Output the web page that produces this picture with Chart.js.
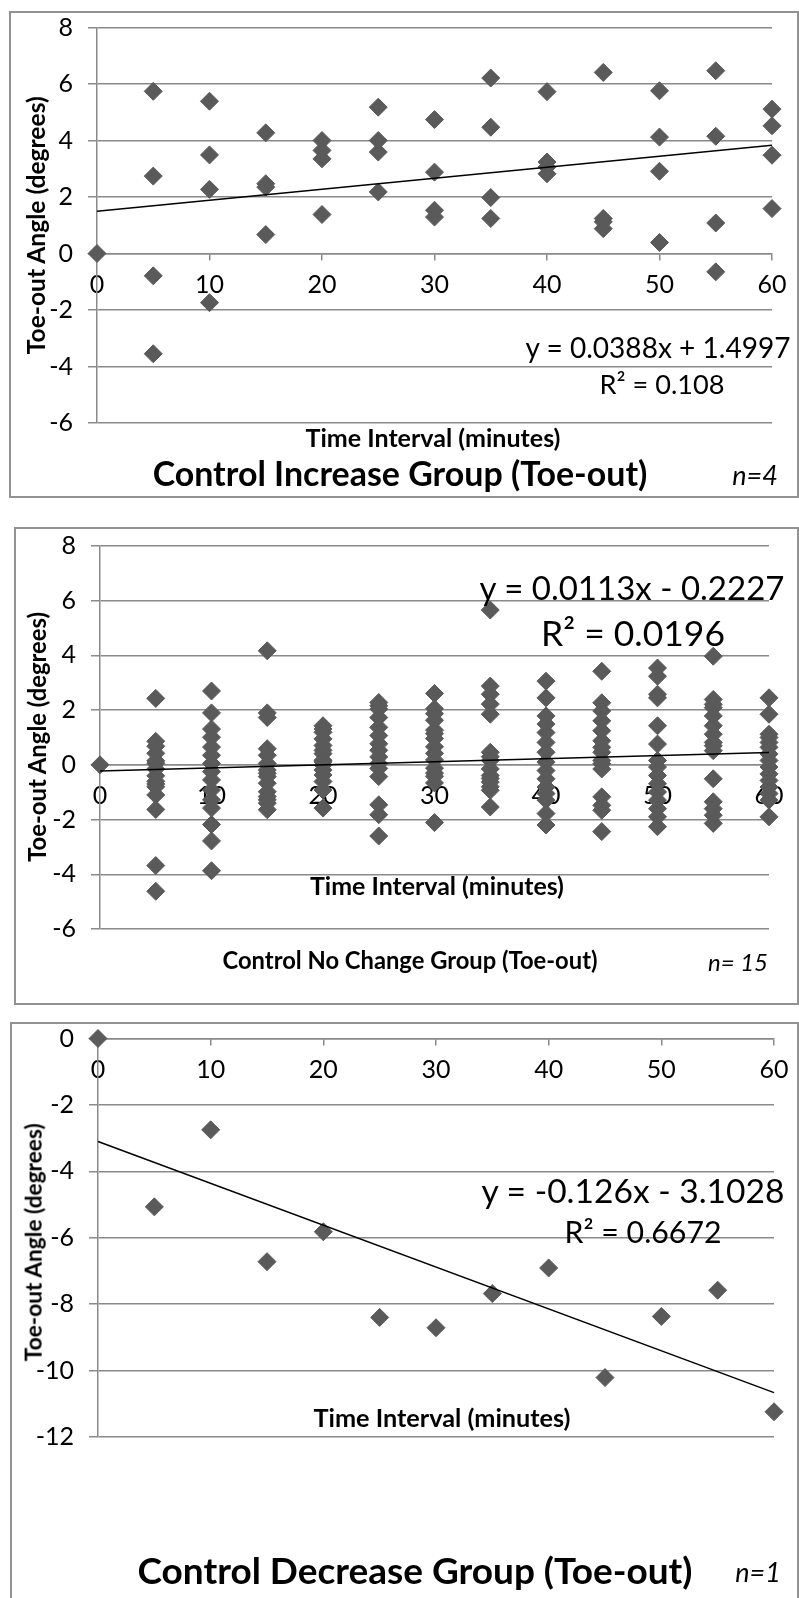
<!DOCTYPE html>
<html>
<head>
<meta charset="utf-8">
<script src="https://cdn.jsdelivr.net/npm/chart.js@4.4.1/dist/chart.umd.min.js"></script>
<style>
  html, body { margin: 0; padding: 0; background: #fff; }
  body { position: relative; width: 799px; height: 1598px; overflow: hidden; font-family: Lato, "Open Sans", sans-serif; }
  .panel { position: absolute; border: 2px solid #929292; box-sizing: border-box; }
  canvas { position: absolute; }
  .txt { position: absolute; white-space: nowrap; line-height: 1; color: #000; font-family: Lato, "Open Sans", sans-serif; }
</style>
</head>
<body>
<div class="panel" style="left:9px;top:11px;width:790px;height:487px;"></div>
<div class="panel" style="left:14px;top:527px;width:785px;height:478px;"></div>
<div class="panel" style="left:10px;top:1022px;width:789px;height:590px;"></div>
<canvas id="c1" width="788" height="486" style="left:9px;top:11px;width:788px;height:486px;"></canvas>
<canvas id="c2" width="783" height="477" style="left:14px;top:527px;width:783px;height:477px;"></canvas>
<canvas id="c3" width="787" height="576" style="left:10px;top:1022px;width:787px;height:576px;"></canvas>
<script>
// ---------- DATA ----------
const timeIntervals = [0, 5, 10, 15, 20, 25, 30, 35, 40, 45, 50, 55, 60];

// Control Increase Group (n=4): angles per time interval
const increaseAngles = [
  [0],
  [5.74, 2.74, -0.79, -3.55],
  [5.39, 3.49, 2.27, -1.74],
  [4.27, 2.47, 2.35, 0.67],
  [4.00, 3.65, 3.35, 1.38],
  [5.18, 4.00, 3.59, 2.18],
  [4.74, 2.88, 1.53, 1.29],
  [6.21, 4.47, 1.98, 1.24],
  [5.73, 3.24, 3.06, 2.82],
  [6.41, 1.24, 1.12, 0.88],
  [5.76, 4.12, 2.91, 0.39],
  [6.47, 4.15, 1.08, -0.65],
  [5.11, 4.52, 3.48, 1.59]
];

// Control No Change Group (n=15)
const noChangeAngles = [
  [0],
  [2.43, 0.86, 0.68, 0.42, 0.15, 0.06, -0.15, -0.40, -0.60, -0.70, -0.80, -1.10, -1.63, -3.68, -4.62],
  [2.70, 1.90, 1.31, 1.01, 0.65, 0.35, 0.05, -0.25, -0.55, -0.92, -1.28, -1.58, -2.18, -2.78, -3.87],
  [4.17, 1.90, 1.73, 0.59, 0.35, 0.05, -0.19, -0.31, -0.43, -0.67, -0.98, -1.16, -1.28, -1.40, -1.64],
  [1.43, 1.31, 1.19, 0.95, 0.71, 0.53, 0.41, 0.17, 0.11, -0.01, -0.19, -0.37, -0.61, -0.92, -1.58],
  [2.28, 2.16, 2.04, 1.73, 1.37, 1.07, 0.77, 0.53, 0.29, 0.05, -0.13, -0.43, -1.46, -1.82, -2.60],
  [2.61, 2.05, 1.87, 1.63, 1.27, 1.14, 0.96, 0.66, 0.42, 0.18, -0.12, -0.30, -0.42, -0.66, -2.11],
  [5.66, 2.88, 2.58, 2.22, 1.85, 0.46, 0.30, 0.16, -0.15, -0.39, -0.50, -0.63, -0.80, -0.93, -1.54],
  [3.06, 2.45, 1.79, 1.49, 1.18, 0.82, 0.46, 0.10, -0.21, -0.51, -0.81, -1.05, -1.29, -1.78, -2.20],
  [3.42, 2.27, 1.97, 1.61, 1.25, 0.88, 0.64, 0.46, 0.16, 0.04, -0.15, -1.17, -1.48, -1.66, -2.44],
  [3.54, 3.24, 2.58, 2.45, 1.43, 0.76, 0.16, -0.08, -0.39, -0.69, -0.99, -1.29, -1.60, -1.90, -2.26],
  [3.97, 2.39, 2.21, 2.09, 1.79, 1.43, 1.12, 0.82, 0.70, 0.52, -0.51, -1.35, -1.60, -1.84, -2.14],
  [2.45, 1.85, 1.12, 1.00, 0.82, 0.64, 0.40, 0.16, -0.08, -0.33, -0.57, -0.81, -1.05, -1.29, -1.90]
];

// Control Decrease Group (n=1)
const decreaseAngles = [0, -5.07, -2.75, -6.72, -5.82, -8.40, -8.71, -7.68, -6.91, -10.21, -8.37, -7.58, -11.24];

// Linear trend lines [slope, intercept] as printed on the chart
const increaseTrend = [0.0388, 1.4997];
const noChangeTrend = [0.0113, -0.2227];
const decreaseTrend = [-0.126, -3.1028];

// Axis tick ranges
const xTicks = [0, 10, 20, 30, 40, 50, 60];
const yTicksUpper = [-6, -4, -2, 0, 2, 4, 6, 8];
const yTicksDecrease = [-12, -10, -8, -6, -4, -2, 0];

// Texts
const xAxisTitle = 'Time Interval (minutes)';
const yAxisTitle = 'Toe-out Angle (degrees)';

// ---------- HELPERS ----------
const FONT = 'Lato, "Open Sans", sans-serif';
const GRID = '#8a8a8a';
const MARK = '#5a5a5a';

function toPoints(angles) {
  const pts = [];
  timeIntervals.forEach((t, i) => {
    const v = angles[i];
    (Array.isArray(v) ? v : [v]).forEach(a => pts.push({ x: t, y: a }));
  });
  return pts;
}

function trendPoints(tr) {
  const x0 = timeIntervals[0], x1 = timeIntervals[timeIntervals.length - 1];
  return [{ x: x0, y: tr[0] * x0 + tr[1] }, { x: x1, y: tr[0] * x1 + tr[1] }];
}

function makeChart(id, angles, trend, yTicks, g) {
  const ctx = document.getElementById(id);
  return new Chart(ctx, {
    type: 'scatter',
    data: {
      datasets: [
        { type: 'line', data: trendPoints(trend), borderColor: '#000', borderWidth: 1.5,
          pointRadius: 0, fill: false, order: 0, clip: false },
        { data: toPoints(angles), pointStyle: 'rectRot', pointRadius: 9, pointHoverRadius: 9,
          backgroundColor: MARK, borderColor: MARK, borderWidth: 1, order: 1, clip: false }
      ]
    },
    options: {
      responsive: false, animation: false, devicePixelRatio: 1, events: [],
      layout: { autoPadding: false, padding: { left: 0, top: g.top, right: g.right, bottom: g.bottom } },
      plugins: { legend: { display: false }, tooltip: { enabled: false }, title: { display: false } },
      scales: {
        x: {
          type: 'linear', position: { y: 0 },
          min: xTicks[0], max: xTicks[xTicks.length - 1],
          ticks: { stepSize: 10, autoSkip: false, maxRotation: 0, minRotation: 0, color: '#000',
                   padding: 10, font: { family: FONT, size: 25 } },
          grid: { drawOnChartArea: false, drawTicks: true, tickLength: 6, color: GRID, lineWidth: 1.5 },
          border: { display: true, color: GRID, width: 1.5 },
          afterFit: s => { s.paddingLeft = 0; s.paddingRight = 0; }
        },
        y: {
          min: yTicks[0], max: yTicks[yTicks.length - 1],
          ticks: { stepSize: 2, color: '#000', padding: 15, font: { family: FONT, size: 25 } },
          grid: { color: GRID, lineWidth: 1.5, tickLength: 9 },
          border: { display: true, color: GRID, width: 1.5 },
          afterFit: s => { s.width = g.axisW; s.paddingTop = 0; s.paddingBottom = 0; }
        }
      }
    }
  });
}

// Place a text centred on (cx, cy); if targetW is given, the font size is chosen so the text spans that width.
function place(text, cx, cy, size, targetW, o) {
  const d = document.createElement('div');
  d.className = 'txt';
  d.textContent = text;
  d.style.fontWeight = o.bold ? '700' : '400';
  d.style.fontStyle = o.italic ? 'italic' : 'normal';
  d.style.fontSize = size + 'px';
  d.style.left = '0px'; d.style.top = '0px';
  document.body.appendChild(d);
  if (targetW) {
    const w0 = d.getBoundingClientRect().width;
    d.style.fontSize = (size * targetW / w0).toFixed(2) + 'px';
  }
  const r = d.getBoundingClientRect();
  d.style.left = (cx - r.width / 2) + 'px';
  d.style.top = (cy - r.height / 2) + 'px';
  if (o.rotate) d.style.transform = 'rotate(-90deg)';
}

// ---------- CHARTS ----------
makeChart('c1', increaseAngles, increaseTrend, yTicksUpper, { axisW: 88, top: 16.5, bottom: 74, right: 25 });
makeChart('c2', noChangeAngles, noChangeTrend, yTicksUpper, { axisW: 86, top: 19, bottom: 75, right: 28 });
makeChart('c3', decreaseAngles, decreaseTrend, yTicksDecrease, { axisW: 88, top: 16.5, bottom: 161, right: 23 });

// ---------- TEXT ----------
// Panel 1
place(yAxisTitle, 36, 225, 20, 258, { bold: true, rotate: true });
place(xAxisTitle, 433, 438, 20, 255, { bold: true });
place('Control Increase Group (Toe-out)', 400, 473, 20, 495, { bold: true });
place('n=4', 755, 474, 27, 0, { italic: true });
place('y = ' + increaseTrend[0] + 'x + ' + increaseTrend[1], 658, 347, 20, 265, {});
place('R\u00B2 = 0.108', 662, 384, 20, 125, {});

// Panel 2
place(yAxisTitle, 37, 737, 20, 250, { bold: true, rotate: true });
place(xAxisTitle, 437, 885, 20, 254, { bold: true });
place('Control No Change Group (Toe-out)', 410, 961, 20, 375, { bold: true });
place('n= 15', 738, 962, 24, 0, { italic: true });
place('y = ' + noChangeTrend[0] + 'x - ' + Math.abs(noChangeTrend[1]), 632, 588, 20, 305, {});
place('R\u00B2 = 0.0196', 633, 633, 20, 184, {});

// Panel 3
place(yAxisTitle, 34, 1242, 20, 238, { bold: true, rotate: true });
place(xAxisTitle, 442, 1418, 20, 257, { bold: true });
place('Control Decrease Group (Toe-out)', 415, 1570, 20, 555, { bold: true });
place('n=1', 758, 1571, 27, 0, { italic: true });
place('y = ' + decreaseTrend[0] + 'x - ' + Math.abs(decreaseTrend[1]), 633, 1191, 20, 303, {});
place('R\u00B2 = 0.6672', 643, 1231, 20, 157, {});
</script>
</body>
</html>
